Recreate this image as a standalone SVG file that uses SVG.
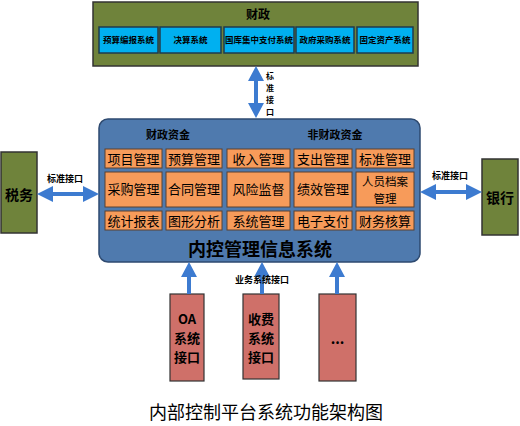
<svg xmlns="http://www.w3.org/2000/svg" width="520" height="426" viewBox="0 0 520 426">
<defs>
<style>
text{font-family:"Noto Sans CJK SC","Liberation Sans",sans-serif;fill:#000;text-anchor:middle;}
.green{fill:#6F833B;stroke:#333;stroke-width:1.5;}
.sub{fill:#00B0F0;stroke:#1F3B4D;stroke-width:1.5;}
.subt{font-size:8.5px;font-weight:bold;}
.cell{fill:#F79B5A;stroke:#5A4030;stroke-width:1;}
.cellt{font-size:13px;}
.red{fill:#CF7069;stroke:#333;stroke-width:1.2;}
.b{font-weight:bold;}
.rt{font-size:13px;font-weight:bold;}
.arr{stroke:#3D7BD0;stroke-width:4;fill:none;}
.head{fill:#3D7BD0;}
</style>
</defs>
<rect width="520" height="426" fill="#fff"/>

<g id="caizheng">
<rect class="green" x="93" y="2" width="325" height="64"/>
<text x="258" y="19" class="b" font-size="12">财政</text>
</g>
<g id="sub1"><rect class="sub" x="99" y="27" width="59" height="26"/><text class="subt" x="128.5" y="43">预算编报系统</text></g>
<g id="sub2"><rect class="sub" x="160" y="27" width="61" height="26"/><text class="subt" x="190.5" y="43">决算系统</text></g>
<g id="sub3"><rect class="sub" x="224" y="27" width="70" height="26"/><text class="subt" x="259" y="43">国库集中支付系统</text></g>
<g id="sub4"><rect class="sub" x="296" y="27" width="58" height="26"/><text class="subt" x="325" y="43">政府采购系统</text></g>
<g id="sub5"><rect class="sub" x="357" y="27" width="56" height="26"/><text class="subt" x="385" y="43">固定资产系统</text></g>

<g id="shuiwu"><rect class="green" x="1" y="152" width="36" height="81"/><text x="19" y="200" class="b" font-size="14">税务</text></g>
<g id="yinhang"><rect class="green" x="482" y="159" width="36" height="76"/><text x="500" y="203" class="b" font-size="14">银行</text></g>

<g id="main">
<rect x="99" y="119" width="321" height="143" rx="9" fill="#4F7AAE" stroke="#2E4A70" stroke-width="1.5"/>
<text x="168" y="139" class="b" font-size="11">财政资金</text>
<text x="335" y="139" class="b" font-size="11">非财政资金</text>
<text x="260" y="256" class="b" font-size="18">内控管理信息系统</text>
</g>
<g id="c11"><rect class="cell" x="105" y="149" width="57" height="19"/><text class="cellt" x="133.5" y="163.5">项目管理</text></g>
<g id="c12"><rect class="cell" x="166" y="149" width="56" height="19"/><text class="cellt" x="194" y="163.5">预算管理</text></g>
<g id="c13"><rect class="cell" x="227" y="149" width="63" height="19"/><text class="cellt" x="258.5" y="163.5">收入管理</text></g>
<g id="c14"><rect class="cell" x="294" y="149" width="58" height="19"/><text class="cellt" x="323" y="163.5">支出管理</text></g>
<g id="c15"><rect class="cell" x="356" y="149" width="58" height="19"/><text class="cellt" x="385" y="163.5">标准管理</text></g>
<g id="c21"><rect class="cell" x="105" y="172" width="57" height="35"/><text class="cellt" x="133.5" y="194">采购管理</text></g>
<g id="c22"><rect class="cell" x="166" y="172" width="56" height="35"/><text class="cellt" x="194" y="194">合同管理</text></g>
<g id="c23"><rect class="cell" x="227" y="172" width="63" height="35"/><text class="cellt" x="258.5" y="194">风险监督</text></g>
<g id="c24"><rect class="cell" x="294" y="172" width="58" height="35"/><text class="cellt" x="323" y="194">绩效管理</text></g>
<g id="c25"><rect class="cell" x="356" y="172" width="58" height="35"/><text x="385" y="185.5" font-size="11.5">人员档案</text><text x="385" y="202.5" font-size="11.5">管理</text></g>
<g id="c31"><rect class="cell" x="105" y="211" width="57" height="19"/><text class="cellt" x="133.5" y="225.5">统计报表</text></g>
<g id="c32"><rect class="cell" x="166" y="211" width="56" height="19"/><text class="cellt" x="194" y="225.5">图形分析</text></g>
<g id="c33"><rect class="cell" x="227" y="211" width="63" height="19"/><text class="cellt" x="258.5" y="225.5">系统管理</text></g>
<g id="c34"><rect class="cell" x="294" y="211" width="58" height="19"/><text class="cellt" x="323" y="225.5">电子支付</text></g>
<g id="c35"><rect class="cell" x="356" y="211" width="58" height="19"/><text class="cellt" x="385" y="225.5">财务核算</text></g>

<g id="oa"><rect class="red" x="170" y="294" width="34" height="87"/>
<text x="187" y="324" class="rt">OA</text><text x="187" y="343" class="rt">系统</text><text x="187" y="362" class="rt">接口</text></g>
<g id="shoufei"><rect class="red" x="243" y="294" width="36" height="85"/>
<text x="261" y="324" class="rt">收费</text><text x="261" y="343" class="rt">系统</text><text x="261" y="362" class="rt">接口</text></g>
<g id="other"><rect class="red" x="319" y="294" width="37" height="87"/>
<text x="337.5" y="344" class="b" font-size="14">...</text></g>

<g id="connectors">
<line class="arr" x1="256" y1="80" x2="256" y2="104"/>
<polygon class="head" points="256,66 248,81 264,81"/>
<polygon class="head" points="256,118 248,103 264,103"/>
<text x="270" y="79" class="b" font-size="8">标</text>
<text x="270" y="91" class="b" font-size="8">准</text>
<text x="270" y="103" class="b" font-size="8">接</text>
<text x="270" y="115" class="b" font-size="8">口</text>

<line class="arr" x1="50" y1="194" x2="86" y2="194"/>
<polygon class="head" points="37,194 53,186 53,202"/>
<polygon class="head" points="99,194 83,186 83,202"/>
<text x="65" y="182" class="b" font-size="9">标准接口</text>

<line class="arr" x1="432" y1="192" x2="469" y2="192"/>
<polygon class="head" points="420,192 436,184 436,200"/>
<polygon class="head" points="482,192 466,184 466,200"/>
<text x="450" y="179" class="b" font-size="9">标准接口</text>

<line class="arr" x1="189" y1="294" x2="189" y2="275"/>
<polygon class="head" points="189,262 181,277 197,277"/>
<line class="arr" x1="262" y1="294" x2="262" y2="275"/>
<polygon class="head" points="262,262 254,277 270,277"/>
<line class="arr" x1="337" y1="294" x2="337" y2="275"/>
<polygon class="head" points="337,262 329,277 345,277"/>
<text x="262" y="283" class="b" font-size="9">业务系统接口</text>
</g>

<text x="266" y="419" font-size="18">内部控制平台系统功能架构图</text>
</svg>
